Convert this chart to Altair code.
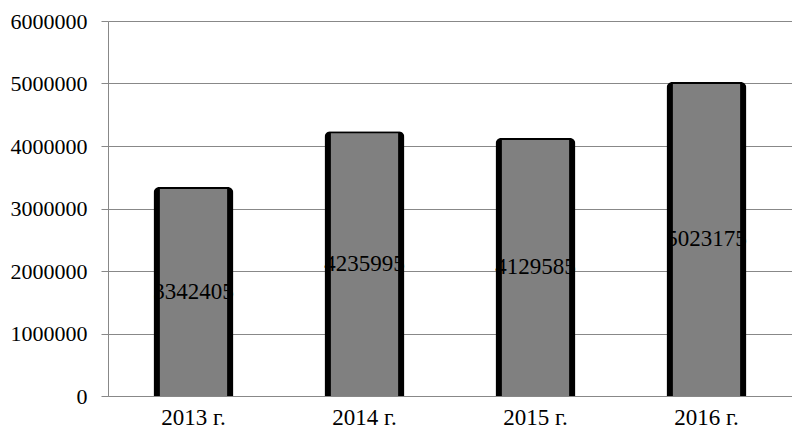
import altair as alt
import pandas as pd

years = ["2013 г.", "2014 г.", "2015 г.", "2016 г."]
values = [3342405, 4235995, 4129585, 5023175]

df = pd.DataFrame({"year": years, "value": values})
df["half"] = df["value"] / 2
df["label"] = df["value"].astype(str)

FONT = "Liberation Serif"

x = alt.X("year:N", sort=years, title=None,
          scale=alt.Scale(paddingInner=0.0, paddingOuter=0.0),
          axis=alt.Axis(labelAngle=0, labelFont=FONT, labelFontSize=23, labelColor="black",
                        ticks=False, domainColor="#888888", labelPadding=10, grid=False))
y = alt.Y("value:Q", title=None,
          scale=alt.Scale(domain=[0, 6000000], nice=False),
          axis=alt.Axis(values=[0, 1000000, 2000000, 3000000, 4000000, 5000000, 6000000],
                        format="d", labelFont=FONT, labelFontSize=22, labelColor="black",
                        tickSize=7, tickColor="#888888", domainColor="#888888",
                        gridColor="#888888", labelPadding=14))

outer = alt.Chart(df).mark_bar(size=80, color="black", cornerRadiusTopLeft=6,
                               cornerRadiusTopRight=6).encode(x=x, y=y)
inner = alt.Chart(df).mark_bar(size=68, color="#808080", yOffset=2, cornerRadiusTopLeft=2,
                               cornerRadiusTopRight=2).encode(
    x=alt.X("year:N", sort=years), y=alt.Y("value:Q"))
text = alt.Chart(df).mark_text(font=FONT, fontSize=23, color="black").encode(
    x=alt.X("year:N", sort=years), y="half:Q", text="label:N")

chart = (outer + inner + text).properties(
    width=684, height=375,
    autosize=alt.AutoSizeParams(type="none"),
    padding={"left": 100, "top": 13, "right": 0, "bottom": 36},
).configure_view(stroke=None)

chart.save("out.html", embed_options={"renderer": "svg", "actions": False})
